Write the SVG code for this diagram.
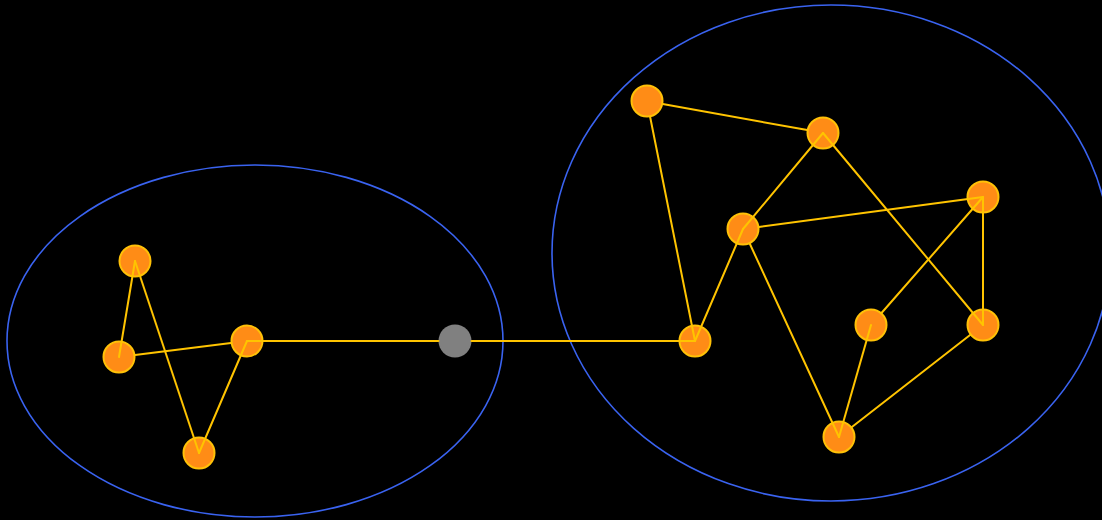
<svg xmlns="http://www.w3.org/2000/svg" width="1102" height="520" viewBox="0 0 1102 520">
<style>
.bg{fill:#000}
.cluster{fill:none;stroke:#3a63f0;stroke-width:1.6}
.node{fill:#ff8c16;stroke:#ffc107;stroke-width:2}
.hub{fill:#808080}
.edge{stroke:#ffc400;stroke-width:2;fill:none;stroke-linecap:round}
</style>
<rect class="bg" x="0" y="0" width="1102" height="520"/>
<g id="clusters">
<ellipse id="cluster-left" class="cluster" cx="255" cy="341" rx="248" ry="176"/>
<ellipse id="cluster-right" class="cluster" cx="831" cy="253" rx="279" ry="248"/>
</g>
<g id="nodes">
<g id="n-a"><circle class="node" cx="135" cy="261" r="15.5"/></g>
<g id="n-b"><circle class="node" cx="119" cy="357" r="15.5"/></g>
<g id="n-c"><circle class="node" cx="247" cy="341" r="15.5"/></g>
<g id="n-d"><circle class="node" cx="199" cy="453" r="15.5"/></g>
<g id="n-hub"><circle class="hub" cx="455" cy="341" r="16.5"/></g>
<g id="n-p1"><circle class="node" cx="647" cy="101" r="15.5"/></g>
<g id="n-p2"><circle class="node" cx="823" cy="133" r="15.5"/></g>
<g id="n-p3"><circle class="node" cx="743" cy="229" r="15.5"/></g>
<g id="n-p4"><circle class="node" cx="983" cy="197" r="15.5"/></g>
<g id="n-p5"><circle class="node" cx="695" cy="341" r="15.5"/></g>
<g id="n-p6"><circle class="node" cx="871" cy="325" r="15.5"/></g>
<g id="n-p7"><circle class="node" cx="983" cy="325" r="15.5"/></g>
<g id="n-p8"><circle class="node" cx="839" cy="437" r="15.5"/></g>
</g>
<g id="connectors">
<line class="edge" x1="135" y1="355" x2="231" y2="343"/>
<line class="edge" x1="135" y1="261" x2="119" y2="357"/>
<line class="edge" x1="135" y1="261" x2="199" y2="453"/>
<line class="edge" x1="247" y1="341" x2="199" y2="453"/>
<line class="edge" x1="247" y1="341" x2="438.5" y2="341"/>
<line class="edge" x1="471.5" y1="341" x2="695" y2="341"/>
<line class="edge" x1="662.7" y1="103.9" x2="807.3" y2="130.1"/>
<line class="edge" x1="650.1" y1="116.7" x2="695" y2="341"/>
<line class="edge" x1="823" y1="133" x2="743" y2="229"/>
<line class="edge" x1="823" y1="133" x2="983" y2="325"/>
<line class="edge" x1="758.9" y1="226.9" x2="983" y2="197"/>
<line class="edge" x1="743" y1="229" x2="695" y2="341"/>
<line class="edge" x1="749.7" y1="243.5" x2="839" y2="437"/>
<line class="edge" x1="983" y1="197" x2="881.5" y2="313"/>
<line class="edge" x1="983" y1="197" x2="983" y2="325"/>
<line class="edge" x1="871" y1="325" x2="839" y2="437"/>
<line class="edge" x1="970.4" y1="334.8" x2="851.6" y2="427.2"/>
</g>
</svg>
